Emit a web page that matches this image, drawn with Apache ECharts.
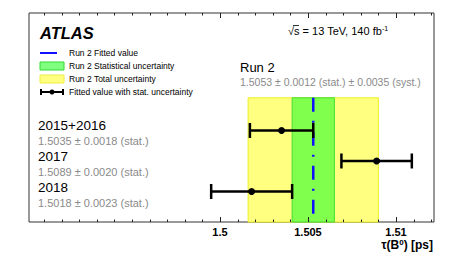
<!DOCTYPE html>
<html><head><meta charset="utf-8">
<script src="https://cdn.jsdelivr.net/npm/echarts@6/dist/echarts.min.js"></script>
<style>html,body{margin:0;padding:0;background:#fff}#c{width:457px;height:271px}</style>
</head><body><div id="c"></div>
<script>
// ---- data ----
const periods = ['2015+2016', '2017', '2018'];
const values = [1.5035, 1.5089, 1.5018];
const statErr = [0.0018, 0.0020, 0.0023];
const rowPos = [3, 2, 1];
const run2Value = 1.5053;
const run2Stat = 0.0012;
const run2Syst = 0.0035;
const bandTop = 4.07;
const majorTicks = [1.5, 1.505, 1.51];
const minorTicks = [1.490, 1.491, 1.492, 1.493, 1.494, 1.495, 1.496, 1.497, 1.498, 1.499, 1.500,
  1.501, 1.502, 1.503, 1.504, 1.505, 1.506, 1.507, 1.508, 1.509, 1.510, 1.511, 1.512];
const legendLabels = ['Run 2 Fitted value', 'Run 2 Statistical uncertainty', 'Run 2 Total uncertainty', 'Fitted value with stat. uncertainty'];

const FONT = '"Liberation Sans", Arial, Helvetica, sans-serif';
const run2Total = Math.sqrt(run2Stat * run2Stat + run2Syst * run2Syst);

const chart = echarts.init(document.getElementById('c'), null, {renderer: 'svg'});

const X_MIN = 1.48915, X_MAX = 1.51216, Y_MIN = 0, Y_MAX = 6.85;

const bandData = [
  [run2Value - run2Total, run2Value + run2Total, bandTop, '#ffff80', '#eeee22'],
  [run2Value - run2Stat, run2Value + run2Stat, bandTop, '#80ff4d', '#44dd33']
];

const errData = periods.map((p, i) => [values[i], rowPos[i], values[i] - statErr[i], values[i] + statErr[i]]);
const tickData = minorTicks.map(v => [v, majorTicks.some(m => Math.abs(m - v) < 1e-9) ? 1 : 0]);

const legendX = 40, legendTxtX = 69;
const legendY = [53, 66, 79, 92];

const graphic = [
  {type: 'text', left: 40, top: 24, style: {text: 'ATLAS', font: 'italic bold 16.5px ' + FONT, fill: '#000'}},
  // legend symbols
  {type: 'line', shape: {x1: legendX, y1: legendY[0], x2: legendX + 17, y2: legendY[0]}, style: {stroke: '#1010ff', lineWidth: 2}},
  {type: 'rect', shape: {x: legendX, y: legendY[1] - 4, width: 24, height: 8}, style: {fill: '#80ff80', stroke: '#33dd33', lineWidth: 1}},
  {type: 'rect', shape: {x: legendX, y: legendY[2] - 4, width: 24, height: 8}, style: {fill: '#ffff80', stroke: '#eeee44', lineWidth: 1}},
  {type: 'line', shape: {x1: legendX, y1: legendY[3], x2: legendX + 24, y2: legendY[3]}, style: {stroke: '#000', lineWidth: 2}},
  {type: 'line', shape: {x1: legendX + 1, y1: legendY[3] - 3, x2: legendX + 1, y2: legendY[3] + 3}, style: {stroke: '#000', lineWidth: 2}},
  {type: 'line', shape: {x1: legendX + 23, y1: legendY[3] - 3, x2: legendX + 23, y2: legendY[3] + 3}, style: {stroke: '#000', lineWidth: 2}},
  {type: 'circle', shape: {cx: legendX + 12, cy: legendY[3], r: 2.5}, style: {fill: '#000'}},
  // energy
  {type: 'text', x: 288, y: 31, style: {text: '√s = 13 TeV, 140 fb{s|-1}', font: '11px ' + FONT, fill: '#000', verticalAlign: 'middle',
    rich: {s: {fontSize: 7, fontFamily: FONT, padding: [0, 0, 6, 0]}}}},
  {type: 'line', shape: {x1: 293, y1: 25.5, x2: 299, y2: 25.5}, style: {stroke: '#000', lineWidth: 0.8}},
  // Run 2
  {type: 'text', x: 240, y: 67, style: {text: 'Run 2', font: '13px ' + FONT, fill: '#000', verticalAlign: 'middle'}},
  {type: 'text', x: 240, y: 82, style: {
    text: run2Value.toFixed(4) + ' ± ' + run2Stat.toFixed(4) + ' (stat.) ± ' + run2Syst.toFixed(4) + ' (syst.)',
    font: '10.5px ' + FONT, fill: '#8a8a8a', verticalAlign: 'middle'}},
  // axis title
  {type: 'text', x: 433, y: 245, style: {text: 'τ(B{s|0}) [ps]', font: 'bold 12px ' + FONT, fill: '#000', align: 'right', verticalAlign: 'middle',
    rich: {s: {fontSize: 8, fontWeight: 'bold', fontFamily: FONT, padding: [0, 0, 6, 0]}}}}
];
legendLabels.forEach((t, i) => graphic.push({type: 'text', x: legendTxtX, y: legendY[i], style: {text: t, font: '8.5px ' + FONT, fill: '#000', verticalAlign: 'middle'}}));
const rowLabelY = [125, 156, 187];
periods.forEach((p, i) => {
  graphic.push({type: 'text', x: 38, y: rowLabelY[i], style: {text: p, font: '13.5px ' + FONT, fill: '#000', verticalAlign: 'middle'}});
  graphic.push({type: 'text', x: 38, y: rowLabelY[i] + 16, style: {
    text: values[i].toFixed(4) + ' ± ' + statErr[i].toFixed(4) + ' (stat.)', font: '11px ' + FONT, fill: '#8a8a8a', verticalAlign: 'middle'}});
});

chart.setOption({
  animation: false,
  backgroundColor: '#fff',
  grid: {left: 29, top: 13, right: 23, bottom: 49, show: true, borderColor: '#333', borderWidth: 1, backgroundColor: 'transparent'},
  xAxis: [{
    type: 'value', position: 'bottom', min: X_MIN, max: X_MAX,
    axisLine: {show: false}, splitLine: {show: false}, axisTick: {show: false},
    axisLabel: {
      show: true, customValues: majorTicks, margin: 4,
      fontFamily: FONT, fontWeight: 'bold', fontSize: 11, color: '#000',
      formatter: v => String(+(+v).toFixed(4))
    }
  }],
  yAxis: {type: 'value', min: Y_MIN, max: Y_MAX, axisLine: {show: false}, axisTick: {show: false}, axisLabel: {show: false}, splitLine: {show: false}},
  graphic: graphic,
  series: [
    {
      type: 'custom', data: bandData, z: 1,
      renderItem: (params, api) => {
        const d = bandData[params.dataIndex];
        const p0 = api.coord([d[0], d[2]]);
        const p1 = api.coord([d[1], 0]);
        return {type: 'rect', shape: {x: p0[0], y: p0[1], width: p1[0] - p0[0], height: p1[1] - p0[1]},
          style: {fill: d[3], stroke: d[4], lineWidth: 1}};
      }
    },
    {
      type: 'line', z: 2, symbol: 'none', silent: true,
      data: [[run2Value, bandTop], [run2Value, 0]],
      lineStyle: {color: '#1010ff', width: 2.5, type: [14, 9, 2, 9], cap: 'butt'}
    },
    {
      type: 'custom', data: errData, z: 3,
      renderItem: (params, api) => {
        const c = api.coord([api.value(0), api.value(1)]);
        const l = api.coord([api.value(2), api.value(1)]);
        const r = api.coord([api.value(3), api.value(1)]);
        const h = 7.5;
        return {type: 'group', children: [
          {type: 'line', shape: {x1: l[0], y1: l[1], x2: r[0], y2: r[1]}, style: {stroke: '#000', lineWidth: 2.5}},
          {type: 'line', shape: {x1: l[0], y1: l[1] - h, x2: l[0], y2: l[1] + h}, style: {stroke: '#000', lineWidth: 2.5}},
          {type: 'line', shape: {x1: r[0], y1: r[1] - h, x2: r[0], y2: r[1] + h}, style: {stroke: '#000', lineWidth: 2.5}},
          {type: 'circle', shape: {cx: c[0], cy: c[1], r: 3.5}, style: {fill: '#000'}}
        ]};
      }
    },
    {
      // axis ticks (bottom + mirrored top), placed through the axis scale
      type: 'custom', data: tickData, z: 20, silent: true, clip: false,
      renderItem: (params, api) => {
        const b = api.coord([api.value(0), Y_MIN]);
        const t = api.coord([api.value(0), Y_MAX]);
        const len = api.value(1) ? 5 : 2.5;
        const x = Math.round(b[0]) + 0.5;
        return {type: 'group', children: [
          {type: 'line', shape: {x1: x, y1: b[1], x2: x, y2: b[1] - len}, style: {stroke: '#222', lineWidth: 1}},
          {type: 'line', shape: {x1: x, y1: t[1], x2: x, y2: t[1] + len}, style: {stroke: '#222', lineWidth: 1}}
        ]};
      }
    }
  ]
});
</script></body></html>
